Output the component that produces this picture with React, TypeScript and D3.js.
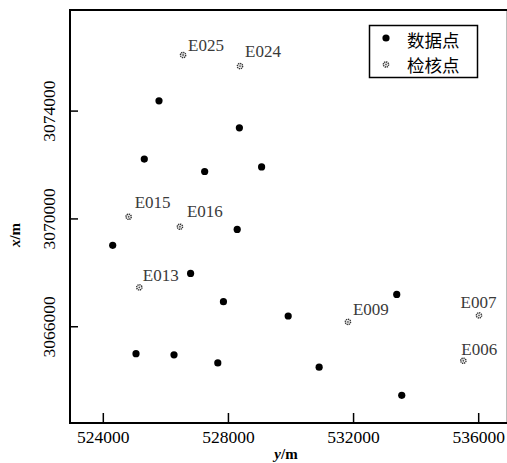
import React, {useEffect, useRef} from 'react';
import * as d3 from 'd3';

// 数据点 (y, x) in metres
const dataY = [525780, 528350, 525310, 527240, 529060, 528280, 524300, 526790, 527840, 529910, 533380, 525045, 526260, 527660, 530900, 533540];
const dataX = [3074380, 3073380, 3072220, 3071760, 3071930, 3069610, 3069020, 3067980, 3066930, 3066400, 3067200, 3065000, 3064960, 3064660, 3064500, 3063455];

// 检核点
const checkNames = ['E025', 'E024', 'E015', 'E016', 'E013', 'E009', 'E007', 'E006'];
const checkY = [526550, 528370, 524810, 526450, 525150, 531820, 536010, 535510];
const checkX = [3076080, 3075670, 3070080, 3069710, 3067460, 3066180, 3066420, 3064740];

const yTicks = [524000, 528000, 532000, 536000];
const xTicks = [3066000, 3070000, 3074000];
const legendLabels = ['数据点', '检核点'];

const W = 507;
const H = 463;
const serif = '"Liberation Serif", "Times New Roman", serif';
const cjk = '"Noto Sans CJK SC", sans-serif';

export default function App() {
  const ref = useRef<SVGSVGElement>(null);

  useEffect(() => {
    const svg = d3.select(ref.current);
    svg.selectAll('*').remove();

    const left = 70, right = 507, top = 10, bottom = 423;
    const sx = d3.scaleLinear().domain([522935, 536905]).range([left, right]);
    const sy = d3.scaleLinear().domain([3062430, 3077750]).range([bottom, top]);

    // frame
    svg.append('line').attr('x1', right - 0.5).attr('x2', right - 0.5).attr('y1', top).attr('y2', bottom)
      .attr('stroke', '#bbb').attr('stroke-width', 1);
    svg.append('path')
      .attr('d', `M${right},${top}H${left}V${bottom}H${right}`)
      .attr('fill', 'none').attr('stroke', '#000').attr('stroke-width', 2);

    // bottom axis, inward ticks
    const gx = svg.append('g');
    gx.selectAll('line').data(yTicks).join('line')
      .attr('x1', d => sx(d)).attr('x2', d => sx(d))
      .attr('y1', bottom).attr('y2', bottom - 10)
      .attr('stroke', '#000').attr('stroke-width', 1.5);
    gx.selectAll('text').data(yTicks).join('text')
      .attr('x', d => sx(d)).attr('y', 443)
      .attr('text-anchor', 'middle')
      .style('font-family', serif).style('font-size', '17.5px')
      .text(d => d3.format('d')(d));

    // left axis, inward ticks
    const gy = svg.append('g');
    gy.selectAll('line').data(xTicks).join('line')
      .attr('x1', left).attr('x2', left + 8)
      .attr('y1', d => sy(d)).attr('y2', d => sy(d))
      .attr('stroke', '#000').attr('stroke-width', 1.5);
    gy.selectAll('text').data(xTicks).join('text')
      .attr('transform', d => `translate(55,${sy(d)}) rotate(-90)`)
      .attr('text-anchor', 'middle')
      .style('font-family', serif).style('font-size', '17.5px')
      .text(d => d3.format('d')(d));

    // axis titles
    svg.append('text').attr('x', 286).attr('y', 459).attr('text-anchor', 'middle')
      .style('font-family', serif).style('font-size', '15px').style('font-weight', 'bold')
      .html('<tspan font-style="italic">y</tspan>/m');
    svg.append('text').attr('transform', 'translate(20,235) rotate(-90)').attr('text-anchor', 'middle')
      .style('font-family', serif).style('font-size', '15px').style('font-weight', 'bold')
      .html('<tspan font-style="italic">x</tspan>/m');

    // data points
    svg.append('g').selectAll('circle').data(d3.range(dataY.length)).join('circle')
      .attr('cx', i => sx(dataY[i])).attr('cy', i => sy(dataX[i]))
      .attr('r', 3.6).attr('fill', '#000');

    // check points
    const drawCheck = (g: d3.Selection<SVGGElement, unknown, null, undefined>, cx: number, cy: number) => {
      g.append('circle').attr('cx', cx).attr('cy', cy).attr('r', 2.6)
        .attr('fill', 'none').attr('stroke', '#333').attr('stroke-width', 1.5).attr('stroke-dasharray', '1.3,0.7');
      g.append('circle').attr('cx', cx).attr('cy', cy).attr('r', 0.9).attr('fill', '#555');
    };
    const labelOffset: Record<string, [number, number]> = {
      E025: [5, -4], E024: [5, -9], E015: [6, -9], E016: [7, -10],
      E013: [3.5, -6], E009: [5, -7], E007: [-18.5, -7], E006: [-2, -6],
    };
    const gc = svg.append('g');
    checkNames.forEach((name, i) => {
      const cx = sx(checkY[i]);
      const cy = sy(checkX[i]);
      drawCheck(gc, cx, cy);
      const [dx, dy] = labelOffset[name];
      gc.append('text').attr('x', cx + dx).attr('y', cy + dy)
        .style('font-family', serif).style('font-size', '17px').attr('fill', '#3a3a3a')
        .text(name);
    });

    // legend
    const lg = svg.append('g');
    lg.append('rect').attr('x', 369.5).attr('y', 25.5).attr('width', 108).attr('height', 52)
      .attr('fill', '#fff').attr('stroke', '#000').attr('stroke-width', 1.5);
    lg.append('circle').attr('cx', 386).attr('cy', 38).attr('r', 3.6).attr('fill', '#000');
    drawCheck(lg, 386, 64.5);
    legendLabels.forEach((t, i) => {
      lg.append('text').attr('x', 407).attr('y', 47 + i * 25)
        .style('font-family', cjk).style('font-size', '17.5px')
        .text(t);
    });
  }, []);

  return (
    <svg ref={ref} width={W} height={H}
      style={{position: 'absolute', left: 0, top: 0, background: '#fff'}} />
  );
}
